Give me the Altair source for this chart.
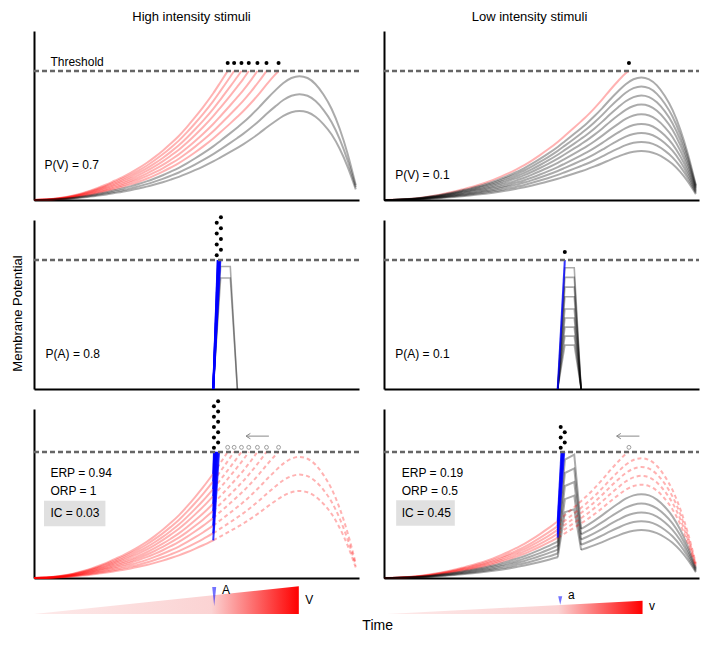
import altair as alt
import pandas as pd

FONT = "Liberation Sans"

# ---------------- values ----------------
# time samples (fraction of the trial window)
T = [0.000, 0.025, 0.050, 0.075, 0.100, 0.125, 0.150, 0.175, 0.200, 0.225,
     0.250, 0.275, 0.300, 0.325, 0.350, 0.375, 0.400, 0.425, 0.450, 0.475,
     0.500, 0.525, 0.557, 0.580, 0.610, 0.632, 0.650, 0.675, 0.700, 0.725,
     0.750, 0.775, 0.800, 0.825, 0.850, 0.875, 0.900, 0.925, 0.950, 0.975,
     1.000]
# normalised shape of the visual (V) depolarisation
V_SHAPE = [0.000, 0.001, 0.003, 0.007, 0.012, 0.019, 0.028, 0.038, 0.050, 0.063,
           0.078, 0.093, 0.110, 0.129, 0.150, 0.174, 0.200, 0.229, 0.260, 0.296,
           0.335, 0.376, 0.433, 0.479, 0.540, 0.586, 0.625, 0.685, 0.750, 0.820,
           0.885, 0.945, 0.985, 1.000, 0.985, 0.935, 0.850, 0.735, 0.575, 0.370,
           0.120]
# auditory (A) pulse: onset, plateau start, plateau end, offset (indices into T)
A_ONSET, A_PLAT_ON, A_PLAT_OFF, A_OFFSET = 22, 23, 24, 25
THRESHOLD = 1.0

V_AMP = [[0.69, 0.82, 0.96, 1.10, 1.23, 1.36, 1.50, 1.63, 1.77, 1.91],
         [0.38, 0.45, 0.52, 0.59, 0.665, 0.74, 0.81, 0.88, 0.95, 1.04]]
A_AMP = [[0.86, 0.95, 1.04, 1.13, 1.22, 1.31, 1.40, 1.49, 1.58, 1.67],
         [0.34, 0.41, 0.48, 0.55, 0.62, 0.715, 0.79, 0.865, 0.94, 1.01]]

TITLES = ["High intensity stimuli", "Low intensity stimuli"]
TITLE_DX = [-5, -12]
PV_TEXT = ["P(V) = 0.7", "P(V) = 0.1"]
PA_TEXT = ["P(A) = 0.8", "P(A) = 0.1"]
ERP_TEXT = ["ERP = 0.94", "ERP = 0.19"]
ORP_TEXT = ["ORP = 1", "ORP = 0.5"]
IC_TEXT = ["IC = 0.03", "IC = 0.45"]

# annotation positions (data units)
THR_LABEL_POS = (0.051, 1.073)
PV_POS = [(0.033, 0.274), (0.036, 0.196)]
PA_POS = [(0.036, 0.269), (0.036, 0.274)]
STAT_X = [0.051, 0.057]
STAT_Y = [0.829, 0.692, 0.515]
IC_BOX = [(0.031, 0.222, 0.411, 0.613), (0.039, 0.227, 0.414, 0.617)]
ARROW = [(0.730, 0.659), (0.819, 0.746)]
ARROW_Y = 1.125

WEDGE_START = [0.000, 0.010]
WEDGE_END = [0.823, 0.829]
WEDGE_HEIGHT = [0.95, 0.457]
MARKER_POS = [(0.560, 0.60), (0.565, 0.464)]
MARKER_SHAPE = ["M-0.21,-1L0.21,-1L0,1Z", "M-0.48,-1L0.48,-1L0,1Z"]
MARKER_SIZE = [361, 71]
A_LABEL = [("A", 0.584, 0.835), ("a", 0.590, 0.663)]
V_LABEL = [("V", 0.843, 0.491), ("v", 0.850, 0.265)]
TIME_POS = (1.068, -0.41)

WIDTHS = [325, 315]
H = 169
XMAX = 1.01

STYLE = {
    "red": dict(color="#ff0000", opacity=0.3, strokeWidth=2),
    "gray": dict(color="#000000", opacity=0.33, strokeWidth=2),
    "grayp": dict(color="#000000", opacity=0.33, strokeWidth=1.6),
    "dash": dict(color="#ff0000", opacity=0.3, strokeWidth=2, strokeDash=[4, 3]),
    "blue": dict(color="#0000ff", opacity=0.8, strokeWidth=2),
}


# ---------------- helpers ----------------
def add_line(lines, seg, pts, style, interp):
    for i, (t, v) in enumerate(pts):
        lines.append({"seg": seg, "i": i, "t": t, "v": v, "style": style, "interp": interp})


def crossing(ts, vs, start):
    for j in range(max(start, 1), len(vs)):
        if vs[j] >= THRESHOLD and vs[j - 1] < THRESHOLD:
            f = (THRESHOLD - vs[j - 1]) / (vs[j] - vs[j - 1])
            return j, ts[j - 1] + f * (ts[j] - ts[j - 1])
    return None


def pulse(a):
    p = [0.0] * len(T)
    p[A_PLAT_ON] = a
    p[A_PLAT_OFF] = a
    return p


def stack(tcs, base=0.037, step=0.042, jitter=0.0065, single=0.062):
    if not tcs:
        return []
    if len(tcs) == 1:
        return [(tcs[0], THRESHOLD + single)]
    m = sum(tcs) / len(tcs)
    return [(m + (-jitter if k % 2 == 0 else jitter), THRESHOLD + base + k * step)
            for k in range(len(tcs))]


def build_v(col):
    lines, dots = [], []
    for k, a in enumerate(V_AMP[col]):
        vs = [a * s for s in V_SHAPE]
        c = crossing(T, vs, 1)
        if c:
            j, tc = c
            add_line(lines, f"v{k}", list(zip(T[:j], vs[:j])) + [(tc, THRESHOLD)], "red", "monotone")
            dots.append((tc, THRESHOLD + 0.062))
        else:
            add_line(lines, f"v{k}", list(zip(T, vs)), "gray", "monotone")
    return lines, dots


def build_a(col):
    lines, tcs = [], []
    idx = [A_ONSET, A_PLAT_ON, A_PLAT_OFF, A_OFFSET]
    ts = [T[i] for i in idx]
    for k, a in enumerate(A_AMP[col]):
        vs = [0.0, a, a, 0.0]
        c = crossing(ts, vs, 1)
        if c:
            j, tc = c
            add_line(lines, f"a{k}", list(zip(ts[:j], vs[:j])) + [(tc, THRESHOLD)], "blue", "linear")
            tcs.append(tc)
        else:
            add_line(lines, f"a{k}", list(zip(ts, vs)), "grayp", "linear")
    return lines, stack(tcs)


def build_av(col):
    lines, tcs, opens = [], [], []
    for k, (v, a) in enumerate(zip(V_AMP[col], A_AMP[col])):
        vs = [v * s for s in V_SHAPE]
        cs = [x + y for x, y in zip(vs, pulse(a))]
        c = crossing(T, cs, A_ONSET + 1)
        if c:
            j, tc = c
            add_line(lines, f"r{k}", list(zip(T[:A_ONSET + 1], vs[:A_ONSET + 1])), "red", "monotone")
            add_line(lines, f"b{k}", list(zip(T[A_ONSET:j], cs[A_ONSET:j])) + [(tc, THRESHOLD)], "blue", "linear")
            tcs.append(tc)
            cv = crossing(T, vs, A_ONSET + 1)
            if cv:
                jv, tv = cv
                add_line(lines, f"d{k}", list(zip(T[A_ONSET:jv], vs[A_ONSET:jv])) + [(tv, THRESHOLD)], "dash", "monotone")
                opens.append((tv, THRESHOLD + 0.036))
            else:
                add_line(lines, f"d{k}", list(zip(T[A_ONSET:], vs[A_ONSET:])), "dash", "monotone")
        else:
            add_line(lines, f"g{k}a", list(zip(T[:A_ONSET + 1], vs[:A_ONSET + 1])), "gray", "monotone")
            add_line(lines, f"g{k}b", list(zip(T[A_ONSET:A_OFFSET + 1], cs[A_ONSET:A_OFFSET + 1])), "gray", "linear")
            add_line(lines, f"g{k}c", list(zip(T[A_OFFSET:], vs[A_OFFSET:])), "gray", "monotone")
    dots = stack(sorted(tcs), base=0.033, step=0.041)
    return lines, dots, opens


AX = alt.Axis(title=None, labels=False, ticks=False, grid=False,
              domainColor="black", domainWidth=2)
AX_Y_TITLE = alt.Axis(title="Membrane Potential", labels=False, ticks=False, grid=False,
                      domainColor="black", domainWidth=2, titleFont=FONT,
                      titleFontSize=13, titleFontWeight="normal", titleColor="black",
                      titleAngle=270, titleAlign="center", titleBaseline="middle",
                      titleX=-17, titleY=93)


def panel(width, lines, dots=(), opens=(), texts=(), ymax=1.31, yaxis=AX, box=None,
          arrow=None, title=None):
    xs = alt.Scale(domain=[0, XMAX], nice=False, zero=False)
    ys = alt.Scale(domain=[0, ymax], nice=False, zero=False)

    def X():
        return alt.X("t:Q", scale=xs, axis=AX)

    def Y():
        return alt.Y("v:Q", scale=ys, axis=yaxis)

    layers = []
    if box is not None:
        bdf = pd.DataFrame({"t": [box[0]], "t2": [box[1]], "v": [box[2]], "v2": [box[3]]})
        layers.append(alt.Chart(bdf).mark_rect(color="#e0e0e0").encode(
            x=X(), x2="t2:Q", y=Y(), y2="v2:Q"))
    df = pd.DataFrame(lines)
    for style in ["red", "gray", "grayp", "dash", "blue"]:
        for interp in ["monotone", "linear"]:
            sub = df[(df["style"] == style) & (df["interp"] == interp)]
            if len(sub) == 0:
                continue
            layers.append(alt.Chart(sub).mark_line(interpolate=interp, **STYLE[style]).encode(
                x=X(), y=Y(), detail="seg:N", order="i:Q"))
    thr = pd.DataFrame({"t": [0.0], "t2": [XMAX], "v": [THRESHOLD]})
    layers.append(alt.Chart(thr).mark_rule(color="#666666", strokeWidth=2.5,
                                            strokeDash=[5, 3]).encode(x=X(), x2="t2:Q", y=Y()))
    if arrow is not None:
        tail, head = arrow
        dx, dy = 0.0134, 0.0214
        adf = pd.DataFrame({
            "seg": ["s", "s", "h", "h", "h"],
            "i": [0, 1, 0, 1, 2],
            "t": [tail, head, head + dx, head, head + dx],
            "v": [ARROW_Y, ARROW_Y, ARROW_Y + dy, ARROW_Y, ARROW_Y - dy],
        })
        layers.append(alt.Chart(adf).mark_line(color="#888888", strokeWidth=1).encode(
            x=X(), y=Y(), detail="seg:N", order="i:Q"))
    if dots:
        ddf = pd.DataFrame(dots, columns=["t", "v"])
        layers.append(alt.Chart(ddf).mark_circle(color="black", size=16, opacity=1).encode(x=X(), y=Y()))
    if opens:
        odf = pd.DataFrame(opens, columns=["t", "v"])
        layers.append(alt.Chart(odf).mark_point(shape="circle", filled=False, color="#666666",
                                                size=15, strokeWidth=0.9).encode(x=X(), y=Y()))
    if texts:
        tdf = pd.DataFrame(texts, columns=["t", "v", "label"])
        layers.append(alt.Chart(tdf).mark_text(align="left", baseline="middle", font=FONT,
                                               fontSize=12, color="black").encode(
            x=X(), y=Y(), text="label:N"))
    ch = alt.layer(*layers).properties(width=width, height=H)
    if title is not None:
        ch = ch.properties(title=title)
    return ch


GRADIENT = {
    "gradient": "linear", "x1": 0, "x2": 1, "y1": 0, "y2": 0,
    "stops": [
        {"offset": 0.0, "color": "#fdeaea"},
        {"offset": 0.67, "color": "#fbd3d3"},
        {"offset": 1.0, "color": "#ff0000"},
    ],
}


def grad_panel(col):
    xs = alt.Scale(domain=[0, XMAX], nice=False, zero=False)
    ys = alt.Scale(domain=[0, 0.55], nice=False, zero=False)
    X = alt.X("t:Q", scale=xs, axis=None)
    Y = alt.Y("v:Q", scale=ys, axis=None)
    wedge = pd.DataFrame({"t": [WEDGE_START[col], WEDGE_END[col]], "v": [0.0, WEDGE_HEIGHT[col]]})
    layers = [alt.Chart(wedge).mark_area(color=GRADIENT, interpolate="linear").encode(x=X, y=Y)]
    mdf = pd.DataFrame({"t": [MARKER_POS[col][0]], "v": [MARKER_POS[col][1]]})
    layers.append(alt.Chart(mdf).mark_point(shape=MARKER_SHAPE[col], size=MARKER_SIZE[col],
                                            filled=True, color="#0000ff", opacity=0.55,
                                            strokeWidth=0).encode(x=X, y=Y))
    labels = [(A_LABEL[col][1], A_LABEL[col][2], A_LABEL[col][0]),
              (V_LABEL[col][1], V_LABEL[col][2], V_LABEL[col][0])]
    ldf = pd.DataFrame(labels, columns=["t", "v", "label"])
    layers.append(alt.Chart(ldf).mark_text(align="left", baseline="middle", font=FONT,
                                           fontSize=12, color="black").encode(x=X, y=Y, text="label:N"))
    if col == 0:
        tdf = pd.DataFrame({"t": [TIME_POS[0]], "v": [TIME_POS[1]], "label": ["Time"]})
        layers.append(alt.Chart(tdf).mark_text(align="center", baseline="middle", font=FONT,
                                               fontSize=14, color="black").encode(x=X, y=Y, text="label:N"))
    return alt.layer(*layers).properties(width=WIDTHS[col], height=16)


charts = {}
for col in range(2):
    w = WIDTHS[col]
    l1, d1 = build_v(col)
    texts1 = [(PV_POS[col][0], PV_POS[col][1], PV_TEXT[col])]
    if col == 0:
        texts1.append((THR_LABEL_POS[0], THR_LABEL_POS[1], "Threshold"))
    title = alt.TitleParams(TITLES[col], font=FONT, fontSize=13, fontWeight="normal",
                            color="black", anchor="middle", baseline="alphabetic",
                            offset=-3, dx=TITLE_DX[col])
    charts[(0, col)] = panel(w, l1, dots=d1, texts=texts1, title=title)

    l2, d2 = build_a(col)
    texts2 = [(PA_POS[col][0], PA_POS[col][1], PA_TEXT[col])]
    charts[(1, col)] = panel(w, l2, dots=d2, texts=texts2,
                             yaxis=AX_Y_TITLE if col == 0 else AX)

    l3, d3, o3 = build_av(col)
    texts3 = [(STAT_X[col], STAT_Y[0], ERP_TEXT[col]),
              (STAT_X[col], STAT_Y[1], ORP_TEXT[col]),
              (STAT_X[col], STAT_Y[2], IC_TEXT[col])]
    charts[(2, col)] = panel(w, l3, dots=d3, opens=o3, texts=texts3, ymax=1.34,
                             box=IC_BOX[col], arrow=ARROW[col])
    charts[(3, col)] = grad_panel(col)

ordered = [charts[(r, c)] for r in range(4) for c in range(2)]
chart = alt.concat(*ordered, columns=2, spacing={"row": 20, "column": 25},
                   bounds="flush").properties(
    padding={"top": 3, "left": 2, "right": 0, "bottom": 0}
).configure_view(stroke=None)

chart.save("out.html", embed_options={"renderer": "svg", "actions": False})
